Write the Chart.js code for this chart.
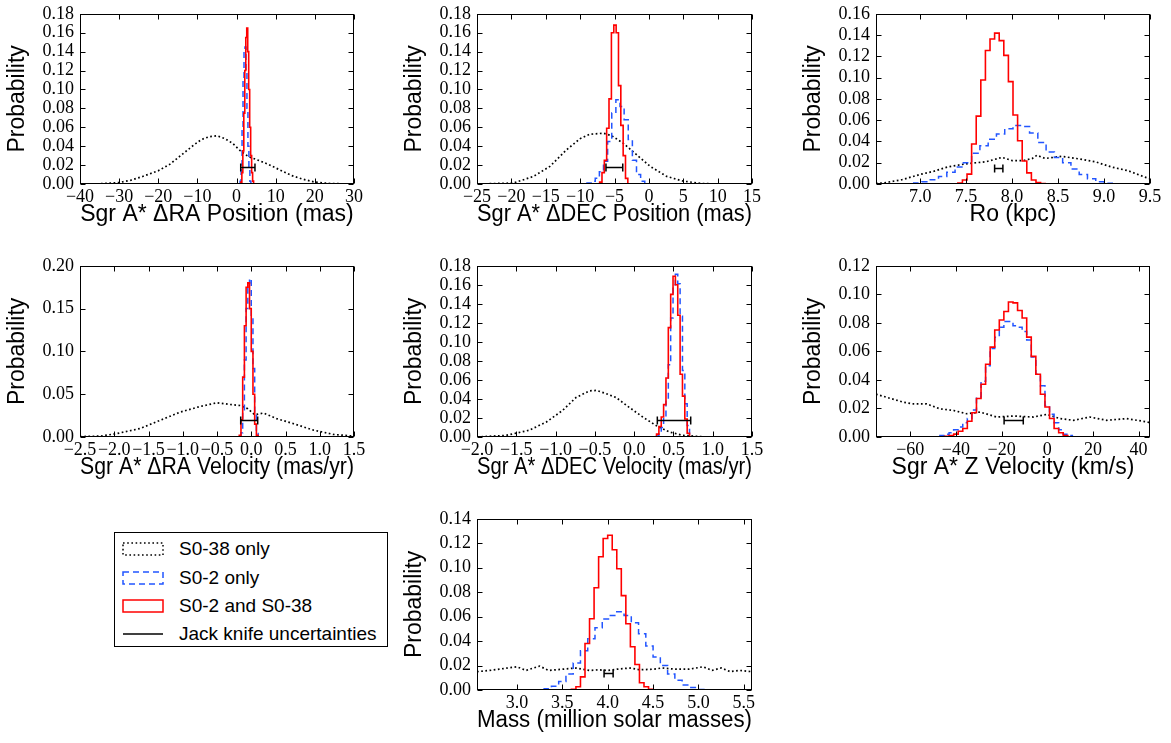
<!DOCTYPE html>
<html>
<head>
<meta charset="utf-8">
<script src="https://cdn.jsdelivr.net/npm/chart.js@4.4.1/dist/chart.umd.min.js"></script>
<style>
  html, body { margin: 0; padding: 0; background: #fff; }
  body { width: 1171px; height: 743px; position: relative; overflow: hidden; }
  #legend {
    position: absolute; left: 114px; top: 532px; width: 274px; height: 115px;
    box-sizing: border-box; border: 1px solid #000; background: #fff;
    font-family: "Liberation Sans", Arial, sans-serif; font-size: 19px; color: #000;
  }
  #legend .item { position: absolute; left: 7px; height: 24px; display: flex; align-items: center; }
  #legend svg { display: block; margin-right: 15px; }
</style>
</head>
<body>
<div id="legend">
  <div class="item" style="top:4px">
    <svg width="42" height="14"><rect x="1" y="1" width="40" height="12" fill="none" stroke="#000" stroke-width="1.5" stroke-dasharray="1.6 2.6"/></svg>
    <span>S0-38 only</span>
  </div>
  <div class="item" style="top:33px">
    <svg width="42" height="14"><rect x="1" y="1" width="40" height="12" fill="none" stroke="#2255ff" stroke-width="1.5" stroke-dasharray="6 4"/></svg>
    <span>S0-2 only</span>
  </div>
  <div class="item" style="top:61px">
    <svg width="42" height="14"><rect x="1" y="1" width="40" height="12" fill="none" stroke="#ff0000" stroke-width="1.5"/></svg>
    <span>S0-2 and S0-38</span>
  </div>
  <div class="item" style="top:89px">
    <svg width="42" height="14"><line x1="1" y1="7" x2="41" y2="7" stroke="#000" stroke-width="1.5"/></svg>
    <span>Jack knife uncertainties</span>
  </div>
</div>
<script>
"use strict";

// ── ΔRA position (mas) ───────────────────────────────────
const raPosBlackX = [-40, -35, -30, -27, -24, -20, -17, -14, -11, -9, -7, -5, -3, -1, 1, 3, 5, 8, 11, 14, 17, 20, 24, 30];
const raPosBlack = [0, 0.0003, 0.0015, 0.004, 0.008, 0.014, 0.021, 0.031, 0.041, 0.047, 0.050, 0.051, 0.048, 0.043, 0.035, 0.029, 0.026, 0.021, 0.015, 0.009, 0.005, 0.002, 0.0005, 0];
const raPosBlueEdges = [0.9, 1.15, 1.4, 1.65, 1.9, 2.15, 2.4, 2.65, 2.9, 3.15, 3.4, 3.65];
const raPosBlue = [0.003, 0.02, 0.06, 0.11, 0.14, 0.145, 0.12, 0.08, 0.04, 0.015, 0.003];
const raPosRedEdges = [1.1, 1.35, 1.6, 1.85, 2.1, 2.35, 2.6, 2.85, 3.1, 3.35, 3.6, 3.85, 4.1, 4.35];
const raPosRed = [0.002, 0.012, 0.035, 0.075, 0.12, 0.155, 0.165, 0.14, 0.10, 0.06, 0.03, 0.012, 0.003];
const raPosJack = [1.06, 4.7, 0.018];

// ── ΔDEC position (mas) ──────────────────────────────────
const decPosBlackX = [-25, -19.7, -16.8, -14.4, -12.0, -10.0, -8.6, -6.6, -5.4, -3.7, -1.8, 0.2, 2.6, 5.0, 7.9, 10.8, 15];
const decPosBlack = [0, 0.001, 0.008, 0.0186, 0.036, 0.048, 0.0526, 0.0537, 0.051, 0.043, 0.031, 0.0186, 0.008, 0.003, 0.0004, 0, 0];
const decPosBlueEdges = [-9.0, -8.4, -7.8, -7.2, -6.6, -6.0, -5.4, -4.8, -4.2, -3.6, -3.0, -2.4, -1.8, -1.2, -0.6];
const decPosBlue = [0.001, 0.003, 0.006, 0.013, 0.024, 0.045, 0.075, 0.089, 0.082, 0.068, 0.047, 0.025, 0.010, 0.003];
const decPosRedEdges = [-7.16, -6.82, -6.48, -6.14, -5.80, -5.45, -5.10, -4.76, -4.42, -4.08, -3.74, -3.40, -3.06];
const decPosRed = [0.002, 0.012, 0.025, 0.059, 0.090, 0.160, 0.168, 0.160, 0.104, 0.062, 0.030, 0.006];
const decPosJack = [-6.24, -3.8, 0.018];

// ── Ro (kpc) ─────────────────────────────────────────────
const roBlackX = [6.52, 6.6, 6.8, 7.0, 7.15, 7.3, 7.5, 7.72, 7.89, 8.0, 8.12, 8.22, 8.27, 8.36, 8.54, 8.7, 8.9, 9.08, 9.26, 9.46, 9.5];
const roBlack = [0.0005, 0.001, 0.004, 0.009, 0.012, 0.016, 0.019, 0.021, 0.025, 0.022, 0.022, 0.024, 0.027, 0.024, 0.026, 0.024, 0.021, 0.016, 0.0125, 0.006, 0.005];
const roBlueEdges = [6.93, 7.02, 7.11, 7.20, 7.29, 7.38, 7.47, 7.56, 7.65, 7.74, 7.83, 7.92, 8.01, 8.10, 8.19, 8.28, 8.37, 8.46, 8.55, 8.64, 8.73, 8.82, 8.91, 9.00, 9.09];
const roBlue = [0.001, 0.002, 0.004, 0.007, 0.011, 0.016, 0.020, 0.029, 0.036, 0.042, 0.047, 0.052, 0.055, 0.054, 0.048, 0.039, 0.030, 0.025, 0.020, 0.014, 0.009, 0.005, 0.002, 0.0006];
const roRedEdges = [7.41, 7.46, 7.51, 7.56, 7.61, 7.66, 7.71, 7.76, 7.81, 7.86, 7.91, 7.96, 8.01, 8.06, 8.11, 8.16, 8.21, 8.26, 8.31, 8.36];
const roRed = [0.001, 0.0037, 0.0093, 0.0376, 0.0638, 0.0978, 0.1255, 0.1363, 0.1418, 0.1348, 0.1209, 0.0962, 0.0648, 0.0407, 0.0216, 0.0105, 0.0037, 0.0013, 0.0005];
const roJack = [7.81, 7.90, 0.015];

// ── ΔRA velocity (mas/yr) ────────────────────────────────
const raVelBlackX = [-2.5, -2.2, -1.96, -1.62, -1.33, -1.04, -0.75, -0.5, -0.31, -0.16, -0.05, 0.05, 0.18, 0.37, 0.61, 0.91, 1.2, 1.5];
const raVelBlack = [0.0005, 0.001, 0.004, 0.01, 0.0195, 0.029, 0.0356, 0.040, 0.038, 0.0368, 0.033, 0.026, 0.028, 0.0215, 0.0157, 0.008, 0.003, 0.001];
const raVelBlueEdges = [-0.15, -0.125, -0.1, -0.075, -0.05, -0.025, 0, 0.025, 0.05, 0.075, 0.1];
const raVelBlue = [0.005, 0.03, 0.09, 0.15, 0.18, 0.185, 0.14, 0.08, 0.025, 0.004];
const raVelRedEdges = [-0.175, -0.15, -0.125, -0.1, -0.075, -0.05, -0.025, 0, 0.025, 0.05, 0.075, 0.1];
const raVelRed = [0.002, 0.02, 0.07, 0.13, 0.175, 0.18, 0.15, 0.1, 0.05, 0.015, 0.002];
const raVelJack = [-0.154, 0.094, 0.0195];

// ── ΔDEC velocity (mas/yr) ───────────────────────────────
const decVelBlackX = [-2.0, -1.63, -1.34, -1.12, -0.91, -0.74, -0.57, -0.48, -0.36, -0.23, -0.06, 0.11, 0.28, 0.45, 0.62, 0.92, 1.5];
const decVelBlack = [0, 0.0017, 0.007, 0.0156, 0.028, 0.0415, 0.0485, 0.049, 0.0457, 0.0415, 0.031, 0.021, 0.012, 0.0052, 0.0017, 0, 0];
const decVelBlueEdges = [0.285, 0.315, 0.345, 0.375, 0.405, 0.435, 0.465, 0.495, 0.525, 0.555, 0.585, 0.615, 0.645, 0.675, 0.705, 0.735];
const decVelBlue = [0.001, 0.004, 0.010, 0.020, 0.040, 0.076, 0.125, 0.160, 0.171, 0.161, 0.127, 0.070, 0.035, 0.012, 0.003];
const decVelRedEdges = [0.285, 0.315, 0.345, 0.375, 0.405, 0.435, 0.465, 0.495, 0.525, 0.555, 0.585, 0.615, 0.645, 0.675, 0.705];
const decVelRed = [0.003, 0.011, 0.021, 0.034, 0.062, 0.115, 0.150, 0.169, 0.160, 0.128, 0.066, 0.043, 0.019, 0.004];
const decVelJack = [0.295, 0.72, 0.0176];

// ── Z velocity (km/s) ────────────────────────────────────
const zVelBlackX = [-75, -69, -63, -58.6, -52.8, -47, -41, -35.3, -29.4, -22.2, -14.9, -6.1, -0.2, 5.6, 11.4, 18.7, 26, 34.8, 43.6, 45];
const zVelBlack = [0.030, 0.0272, 0.0244, 0.0232, 0.0232, 0.0197, 0.0186, 0.0163, 0.0175, 0.0140, 0.0147, 0.0140, 0.0159, 0.0129, 0.0117, 0.0140, 0.0117, 0.0129, 0.0106, 0.010];
const zVelBlueEdges = [-47, -45, -43, -41, -39, -37, -35, -33, -31, -29, -27, -25, -23, -21, -19, -17, -15, -13, -11, -9, -7, -5, -3, -1, 1, 3, 5, 7, 9, 11];
const zVelBlue = [0.001, 0.002, 0.003, 0.005, 0.007, 0.010, 0.013, 0.019, 0.028, 0.039, 0.050, 0.062, 0.070, 0.077, 0.081, 0.081, 0.078, 0.077, 0.074, 0.068, 0.056, 0.044, 0.036, 0.022, 0.016, 0.010, 0.005, 0.002, 0.001];
const zVelRedEdges = [-45, -43, -41, -39, -37, -35, -33, -31, -29, -27, -25, -23, -21, -19, -17, -15, -13, -11, -9, -7, -5, -3, -1, 1, 3, 5, 7, 9];
const zVelRed = [0.0005, 0.001, 0.002, 0.004, 0.006, 0.011, 0.017, 0.027, 0.037, 0.051, 0.063, 0.075, 0.082, 0.088, 0.0946, 0.094, 0.0887, 0.0834, 0.070, 0.0565, 0.044, 0.030, 0.021, 0.013, 0.006, 0.003, 0.001];
const zVelJack = [-18.9, -10.5, 0.0117];

// ── Mass (million solar masses) ──────────────────────────
const massBlackX = [2.56, 2.7, 2.85, 3.0, 3.1, 3.25, 3.35, 3.5, 3.65, 3.8, 3.9, 4.0, 4.1, 4.25, 4.35, 4.5, 4.6, 4.75, 4.9, 5.05, 5.15, 5.25, 5.35, 5.45, 5.59];
const massBlack = [0.015, 0.016, 0.0175, 0.019, 0.016, 0.0195, 0.016, 0.017, 0.018, 0.016, 0.0165, 0.016, 0.017, 0.018, 0.0165, 0.017, 0.018, 0.017, 0.017, 0.019, 0.016, 0.018, 0.015, 0.016, 0.015];
const massBlueEdges = [3.30, 3.38, 3.46, 3.54, 3.62, 3.70, 3.78, 3.86, 3.94, 4.02, 4.10, 4.18, 4.26, 4.34, 4.42, 4.50, 4.58, 4.66, 4.74, 4.82, 4.90, 4.98, 5.06];
const massBlue = [0.001, 0.003, 0.007, 0.013, 0.022, 0.032, 0.042, 0.051, 0.058, 0.061, 0.064, 0.061, 0.055, 0.046, 0.036, 0.027, 0.020, 0.013, 0.008, 0.004, 0.002, 0.0005];
const massRedEdges = [3.60, 3.65, 3.70, 3.75, 3.80, 3.85, 3.90, 3.95, 4.00, 4.05, 4.10, 4.15, 4.20, 4.25, 4.30, 4.35, 4.40, 4.45, 4.50];
const massRed = [0.0005, 0.0027, 0.0107, 0.038, 0.0583, 0.0836, 0.109, 0.1239, 0.1266, 0.1147, 0.0992, 0.0772, 0.0542, 0.0354, 0.0209, 0.0059, 0.0027, 0.0005];
const massJack = [3.96, 4.06, 0.014];

// ── tick labels ──────────────────────────────────────────
const xTicksRaPos = [-40, -30, -20, -10, 0, 10, 20, 30];
const xTicksDecPos = [-25, -20, -15, -10, -5, 0, 5, 10, 15];
const xTicksRo = [7.0, 7.5, 8.0, 8.5, 9.0, 9.5];
const xTicksRaVel = [-2.5, -2.0, -1.5, -1.0, -0.5, 0.0, 0.5, 1.0, 1.5];
const xTicksDecVel = [-2.0, -1.5, -1.0, -0.5, 0.0, 0.5, 1.0, 1.5];
const xTicksZVel = [-60, -40, -20, 0, 20, 40];
const xTicksMass = [3.0, 3.5, 4.0, 4.5, 5.0, 5.5];
const yTicks18 = [0, 0.02, 0.04, 0.06, 0.08, 0.10, 0.12, 0.14, 0.16, 0.18];
const yTicks16 = [0, 0.02, 0.04, 0.06, 0.08, 0.10, 0.12, 0.14, 0.16];
const yTicks20 = [0, 0.05, 0.10, 0.15, 0.20];
const yTicks12 = [0, 0.02, 0.04, 0.06, 0.08, 0.10, 0.12];
const yTicks14 = [0, 0.02, 0.04, 0.06, 0.08, 0.10, 0.12, 0.14];

const SANS = '"Liberation Sans", Arial, sans-serif';
const SERIF = '"Liberation Serif", "Times New Roman", serif';
const BLUE = "#2255ff";
const RED = "#ff0000";
const TICK_FONT = { family: SERIF, size: 18 };
const TITLE_FONT = { family: SANS, size: 23 };

Chart.defaults.color = "#000";

const fmt = (v, dec) => (v < 0 ? "\u2212" : "") + Math.abs(v).toFixed(dec);

// histogram outline from bin edges + heights
function stepPoints(edges, vals) {
  const pts = [{ x: edges[0], y: 0 }];
  vals.forEach((v, i) => pts.push({ x: edges[i], y: v }, { x: edges[i + 1], y: v }));
  pts.push({ x: edges[edges.length - 1], y: 0 });
  return pts;
}

// frame, inward ticks, jack-knife bar
const framePlugin = {
  id: "jk",
  afterDatasetsDraw(chart, args, opts) {
    const { ctx, chartArea: a, scales: { x, y } } = chart;
    ctx.save();
    ctx.strokeStyle = "#000";
    // jack knife bar
    const x0 = x.getPixelForValue(opts.lo), x1 = x.getPixelForValue(opts.hi);
    const yy = Math.round(y.getPixelForValue(opts.y)) + 0.5;
    ctx.lineWidth = 1.5;
    ctx.beginPath();
    ctx.moveTo(x0, yy); ctx.lineTo(x1, yy);
    ctx.moveTo(x0, yy - 4); ctx.lineTo(x0, yy + 4);
    ctx.moveTo(x1, yy - 4); ctx.lineTo(x1, yy + 4);
    ctx.stroke();
    // ticks
    const L = Math.round(a.left) + 0.5, R = Math.round(a.right) - 0.5;
    const T = Math.round(a.top) + 0.5, B = Math.round(a.bottom) - 0.5;
    ctx.lineWidth = 1;
    ctx.beginPath();
    x.ticks.forEach((t) => {
      const px = Math.round(x.getPixelForValue(t.value)) + 0.5;
      ctx.moveTo(px, B); ctx.lineTo(px, B - 5);
      ctx.moveTo(px, T); ctx.lineTo(px, T + 5);
    });
    y.ticks.forEach((t) => {
      const py = Math.round(y.getPixelForValue(t.value)) + 0.5;
      ctx.moveTo(L, py); ctx.lineTo(L + 5, py);
      ctx.moveTo(R, py); ctx.lineTo(R - 5, py);
    });
    ctx.stroke();
    ctx.strokeRect(L, T, R - L, B - T);
    ctx.restore();
  },
};

const PAD_T = 15, PAD_R = 25, Y_W = 80, X_H = 48;

function makePanel(p) {
  const [L, T, R, B] = p.box;
  const w = R - L + Y_W + PAD_R, h = B - T + PAD_T + X_H;
  const cv = document.createElement("canvas");
  cv.width = w; cv.height = h;
  cv.style.cssText = `position:absolute;left:${L - Y_W}px;top:${T - PAD_T}px;width:${w}px;height:${h}px`;
  document.body.appendChild(cv);
  new Chart(cv, {
    type: "line",
    data: {
      datasets: [
        { data: stepPoints(p.redEdges, p.red), borderColor: RED, borderWidth: 1.6 },
        { data: stepPoints(p.blueEdges, p.blue), borderColor: BLUE, borderWidth: 1.5, borderDash: [6, 4] },
        { data: p.blackX.map((x, i) => ({ x, y: p.black[i] })), borderColor: "#000", borderWidth: 1.7, borderDash: [1.7, 2.5] },
      ],
    },
    options: {
      responsive: false,
      animation: false,
      events: [],
      devicePixelRatio: 1,
      layout: { padding: { left: 0, top: PAD_T, right: PAD_R, bottom: 0 } },
      elements: { point: { radius: 0 }, line: { tension: 0, fill: false } },
      plugins: {
        legend: { display: false },
        tooltip: { enabled: false },
        jk: { lo: p.jack[0], hi: p.jack[1], y: p.jack[2] },
      },
      scales: {
        x: {
          type: "linear", min: p.xMin, max: p.xMax,
          grid: { display: false, drawTicks: false }, border: { display: false },
          afterBuildTicks: (s) => { s.ticks = p.xTicks.map((v) => ({ value: v })); },
          afterFit: (s) => { s.height = X_H; },
          ticks: { autoSkip: false, maxRotation: 0, minRotation: 0, padding: 2, font: TICK_FONT, color: "#000", callback: (v) => fmt(v, p.xDec) },
          title: { display: true, text: p.title, font: TITLE_FONT, color: "#000", padding: { top: 0, bottom: 4 } },
        },
        y: {
          type: "linear", min: 0, max: p.yTicks[p.yTicks.length - 1],
          grid: { display: false, drawTicks: false }, border: { display: false },
          afterBuildTicks: (s) => { s.ticks = p.yTicks.map((v) => ({ value: v })); },
          afterFit: (s) => { s.width = Y_W; },
          ticks: { autoSkip: false, padding: 6, font: TICK_FONT, color: "#000", callback: (v) => v.toFixed(2) },
          title: { display: true, text: "Probability", font: TITLE_FONT, color: "#000", padding: { top: 4, bottom: 0 } },
        },
      },
    },
    plugins: [framePlugin],
  });
}

const panels = [
  { box: [80, 12, 354, 184], xMin: -40, xMax: 30, xTicks: xTicksRaPos, xDec: 0, yTicks: yTicks18, title: "Sgr A* \u0394RA Position (mas)",
    blackX: raPosBlackX, black: raPosBlack, blueEdges: raPosBlueEdges, blue: raPosBlue, redEdges: raPosRedEdges, red: raPosRed, jack: raPosJack },
  { box: [477, 12, 752, 184], xMin: -25, xMax: 15, xTicks: xTicksDecPos, xDec: 0, yTicks: yTicks18, title: "Sgr A* \u0394DEC Position (mas)",
    blackX: decPosBlackX, black: decPosBlack, blueEdges: decPosBlueEdges, blue: decPosBlue, redEdges: decPosRedEdges, red: decPosRed, jack: decPosJack },
  { box: [876, 12, 1150, 184], xMin: 6.52, xMax: 9.5, xTicks: xTicksRo, xDec: 1, yTicks: yTicks16, title: "Ro (kpc)",
    blackX: roBlackX, black: roBlack, blueEdges: roBlueEdges, blue: roBlue, redEdges: roRedEdges, red: roRed, jack: roJack },
  { box: [80, 264, 354, 437], xMin: -2.5, xMax: 1.5, xTicks: xTicksRaVel, xDec: 1, yTicks: yTicks20, title: "Sgr A* \u0394RA Velocity (mas/yr)",
    blackX: raVelBlackX, black: raVelBlack, blueEdges: raVelBlueEdges, blue: raVelBlue, redEdges: raVelRedEdges, red: raVelRed, jack: raVelJack },
  { box: [477, 264, 752, 437], xMin: -2.0, xMax: 1.5, xTicks: xTicksDecVel, xDec: 1, yTicks: yTicks18, title: "Sgr A* \u0394DEC Velocity (mas/yr)",
    blackX: decVelBlackX, black: decVelBlack, blueEdges: decVelBlueEdges, blue: decVelBlue, redEdges: decVelRedEdges, red: decVelRed, jack: decVelJack },
  { box: [876, 264, 1150, 437], xMin: -75, xMax: 45, xTicks: xTicksZVel, xDec: 0, yTicks: yTicks12, title: "Sgr A* Z Velocity (km/s)",
    blackX: zVelBlackX, black: zVelBlack, blueEdges: zVelBlueEdges, blue: zVelBlue, redEdges: zVelRedEdges, red: zVelRed, jack: zVelJack },
  { box: [477, 517, 752, 690], xMin: 2.56, xMax: 5.59, xTicks: xTicksMass, xDec: 1, yTicks: yTicks14, title: "Mass (million solar masses)",
    blackX: massBlackX, black: massBlack, blueEdges: massBlueEdges, blue: massBlue, redEdges: massRedEdges, red: massRed, jack: massJack },
];

panels.forEach(makePanel);
</script>
</body>
</html>
